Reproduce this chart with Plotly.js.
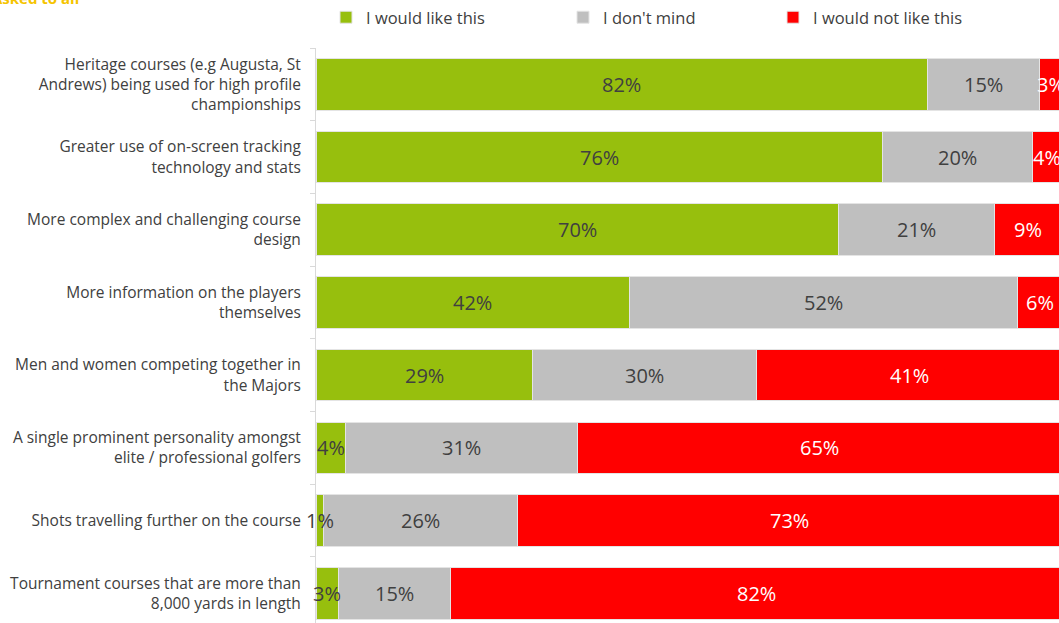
<!DOCTYPE html>
<html>
<head>
<meta charset="utf-8">
<script src="https://cdn.plot.ly/plotly-3.0.1.min.js"></script>
<style>html,body{margin:0;padding:0;background:#fff;}#chart{width:1059px;height:623px;}</style>
</head>
<body>
<div id="chart"></div>
<script>
const categories = [
  "Heritage courses (e.g Augusta, St<br>Andrews) being used for high profile<br>championships",
  "Greater use of on-screen tracking<br>technology and stats",
  "More complex and challenging course<br>design",
  "More information on the players<br>themselves",
  "Men and women competing together in<br>the Majors",
  "A single prominent personality amongst<br>elite / professional golfers",
  "Shots travelling further on the course",
  "Tournament courses that are more than<br>8,000 yards in length"
];
const seriesNames = ["I would like this", "I don't mind", "I would not like this"];
const wouldLike = [82, 76, 70, 42, 29, 4, 1, 3];
const dontMind = [15, 20, 21, 52, 30, 31, 26, 15];
const wouldNotLike = [3, 4, 9, 6, 41, 65, 73, 82];
const subtitle = "Asked to all";

const colors = ["#97bf0d", "#bfbfbf", "#ff0000"];
const textColors = ["#404040", "#404040", "#ffffff"];
const legendIds = ["legend", "legend2", "legend3"];
const legendPx = [326, 563, 773];
const FONT = "'Open Sans', Roboto, sans-serif";
const PLOT_L = 316, PLOT_W = 743;

const seriesValues = [wouldLike, dontMind, wouldNotLike];

const barTraces = seriesValues.map((vals, i) => ({
  type: "bar",
  orientation: "h",
  name: seriesNames[i],
  legend: legendIds[i],
  y: categories,
  x: vals,
  marker: {color: colors[i], line: {color: "#e4e4e4", width: 1}},
  hoverinfo: "skip"
}));

// value labels centred in each stacked segment
const labelAnnotations = [];
seriesValues.forEach((vals, i) => {
  vals.forEach((v, k) => {
    let start = 0;
    for (let j = 0; j < i; j++) start += seriesValues[j][k];
    labelAnnotations.push({
      xref: "x", yref: "y",
      x: start + v / 2,
      y: categories[k],
      text: v + "%",
      showarrow: false,
      xanchor: "center", yanchor: "middle",
      yshift: 0,
      font: {family: FONT, size: 20, color: textColors[i]}
    });
  });
});

function legendCfg(px) {
  return {
    orientation: "h",
    x: (px - PLOT_L) / PLOT_W, xanchor: "left",
    y: 1, yref: "container", yanchor: "top",
    font: {family: FONT, size: 16.5, color: "#404040"},
    bgcolor: "rgba(0,0,0,0)",
    itemclick: false
  };
}

const layout = {
  width: 1059,
  height: 623,
  barmode: "stack",
  bargap: 0.29,
  margin: {l: PLOT_L, r: 0, t: 48, b: 0},
  paper_bgcolor: "#ffffff",
  plot_bgcolor: "#ffffff",
  font: {family: FONT, color: "#404040"},
  showlegend: true,
  legend: legendCfg(legendPx[0]),
  legend2: legendCfg(legendPx[1]),
  legend3: legendCfg(legendPx[2]),
  xaxis: {
    range: [0, 99.6],
    visible: false,
    fixedrange: true
  },
  yaxis: {
    type: "category",
    categoryorder: "array",
    categoryarray: categories,
    range: [7.41, -0.5],
    showline: true,
    linecolor: "#d9d9d9",
    linewidth: 1,
    ticks: "outside",
    tickson: "boundaries",
    ticklen: 5,
    tickcolor: "#d9d9d9",
    ticklabelstandoff: 11,
    showgrid: false,
    tickfont: {family: FONT, size: 15.5, color: "#404040"},
    fixedrange: true
  },
  annotations: [{
    text: "<b>" + subtitle + "</b>",
    xref: "paper", yref: "paper",
    x: -326 / PLOT_W, xanchor: "left",
    y: 1 + 50 / 575, yanchor: "middle",
    showarrow: false,
    font: {family: FONT, size: 15, color: "#f5c400"}
  }].concat(labelAnnotations)
};

Plotly.newPlot("chart", barTraces, layout, {displayModeBar: false, staticPlot: true});
</script>
</body>
</html>
